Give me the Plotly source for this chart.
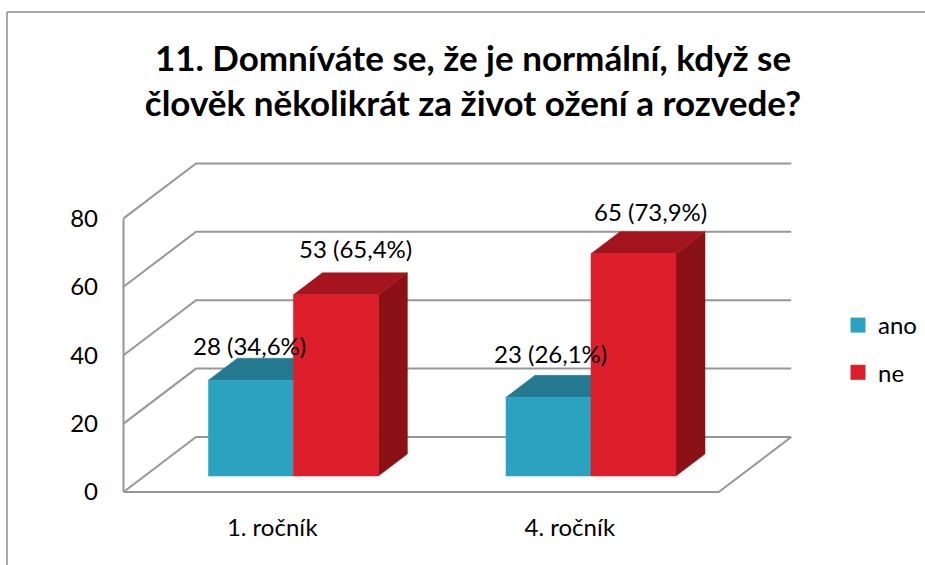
import plotly.graph_objects as go

TITLE = "11. Domníváte se, že je normální, když se<br>člověk několikrát za život ožení a rozvede?"
categories = ["1. ročník", "4. ročník"]
series_names = ["ano", "ne"]
ano_values = [28, 23]
ne_values = [53, 65]
ano_labels = ["28 (34,6%)", "23 (26,1%)"]
ne_labels = ["53 (65,4%)", "65 (73,9%)"]
y_ticks = [0, 20, 40, 60, 80]

# layout of the oblique projection, in pixels of the page
X0_PX, Y0_PX = 123.5, 492.0
CAT_PX, UNIT_PX = 297.6, 3.42
LEFT, RIGHT, TOP, BOTTOM = 118, 925, 150, 500
DEPTH_DX, DEPTH_DY = 72.5 / CAT_PX, 55 / UNIT_PX
BAR_W = 85 / CAT_PX
F0, F1 = 16 / 55, 38 / 55
GRID = "#979797"

fig = go.Figure()


def poly(xs, ys, color, name=None):
    fig.add_trace(go.Scatter(x=xs, y=ys, mode="lines", fill="toself", fillcolor=color,
                             line=dict(color=color, width=0.5), hoverinfo="skip",
                             showlegend=False))


# walls and floor
gx, gy = [], []
n = len(categories)
for v in y_ticks:
    gx += [0, DEPTH_DX, n + DEPTH_DX, None]
    gy += [v, v + DEPTH_DY, v + DEPTH_DY, None]
gx += [0, 0, None, 0, n, n + DEPTH_DX]
gy += [y_ticks[0], y_ticks[-1], None, 0, 0, DEPTH_DY]
fig.add_trace(go.Scatter(x=gx, y=gy, mode="lines", line=dict(color=GRID, width=2),
                         hoverinfo="skip", showlegend=False))


def box(left, value, front, top, side=None):
    ax, ay = F0 * DEPTH_DX, F0 * DEPTH_DY
    bx, by = F1 * DEPTH_DX, F1 * DEPTH_DY
    right = left + BAR_W
    if side:
        poly([right + ax, right + bx, right + bx, right + ax, right + ax],
             [ay, by, value + by, value + ay, ay], side)
    poly([left + ax, right + ax, right + bx, left + bx, left + ax],
         [value + ay, value + ay, value + by, value + by, value + ay], top)
    poly([left + ax, right + ax, right + ax, left + ax, left + ax],
         [ay, ay, value + ay, value + ay, ay], front)


for i in range(n):
    box(i + 0.5 - BAR_W, ano_values[i], "#2CA2C1", "#237A90")
    box(i + 0.5, ne_values[i], "#DC1F2A", "#A4141E", "#8A1217")

# legend entries
for name, color in zip(series_names, ["#2CA2C1", "#DC1F2A"]):
    fig.add_trace(go.Scatter(x=[None], y=[None], mode="markers", name=name, legendgroup=name,
                             marker=dict(symbol="square", size=15, color=color)))

# data labels, placed by hand in the source chart
shifts = [(-1, 35), (20, 46), (2, 44), (17, 42)]
rows = [(0, ano_values[0], ano_labels[0], -1), (0, ne_values[0], ne_labels[0], 0),
        (1, ano_values[1], ano_labels[1], -1), (1, ne_values[1], ne_labels[1], 0)]
annotations = []
for (i, v, text, s), (sx, sy) in zip(rows, shifts):
    annotations.append(dict(x=i + 0.5 + (s + 0.5) * BAR_W + F0 * DEPTH_DX, y=v + F0 * DEPTH_DY,
                            text=text, showarrow=False, xshift=sx, yshift=sy,
                            xanchor="center", yanchor="middle",
                            font=dict(size=24, color="black")))

frame = dict(type="line", xref="paper", yref="paper",
             line=dict(color="#8C8C8C", width=1.5))
w, h = RIGHT - LEFT, BOTTOM - TOP
px = lambda p: (p - LEFT) / w
py = lambda p: (BOTTOM - p) / h

fig.update_layout(
    width=925, height=565, autosize=False,
    paper_bgcolor="white", plot_bgcolor="white",
    font=dict(family="Lato, sans-serif", color="black"),
    margin=dict(l=LEFT, r=925 - RIGHT, t=TOP, b=565 - BOTTOM, pad=0),
    title=dict(text=TITLE, x=473 / 925, xanchor="center", y=0.875, yanchor="middle",
               font=dict(size=35, color="black", weight="bold")),
    xaxis=dict(range=[(LEFT - X0_PX) / CAT_PX, (RIGHT - X0_PX) / CAT_PX], tickmode="array",
               tickvals=[0.5, 1.5], ticktext=categories, showgrid=False, zeroline=False,
               showline=False, ticks="", tickfont=dict(size=24), ticklabelstandoff=11),
    yaxis=dict(range=[(Y0_PX - BOTTOM) / UNIT_PX, (Y0_PX - TOP) / UNIT_PX], tickmode="array",
               tickvals=y_ticks, showgrid=False, zeroline=False, showline=False, ticks="",
               tickfont=dict(size=24), ticklabelstandoff=19),
    legend=dict(x=px(838), xanchor="left", y=py(303), yanchor="top", tracegroupgap=13,
                entrywidth=40, entrywidthmode="pixels",
                font=dict(size=24), bgcolor="rgba(0,0,0,0)"),
    annotations=annotations,
    shapes=[
        dict(frame, x0=px(7), x1=px(7), y0=py(12), y1=py(565)),
        dict(frame, x0=px(7), x1=px(925), y0=py(12), y1=py(12)),
    ],
)
fig.write_html("out.html", post_script="document.body.style.margin='0';",
               config={"displayModeBar": False})
